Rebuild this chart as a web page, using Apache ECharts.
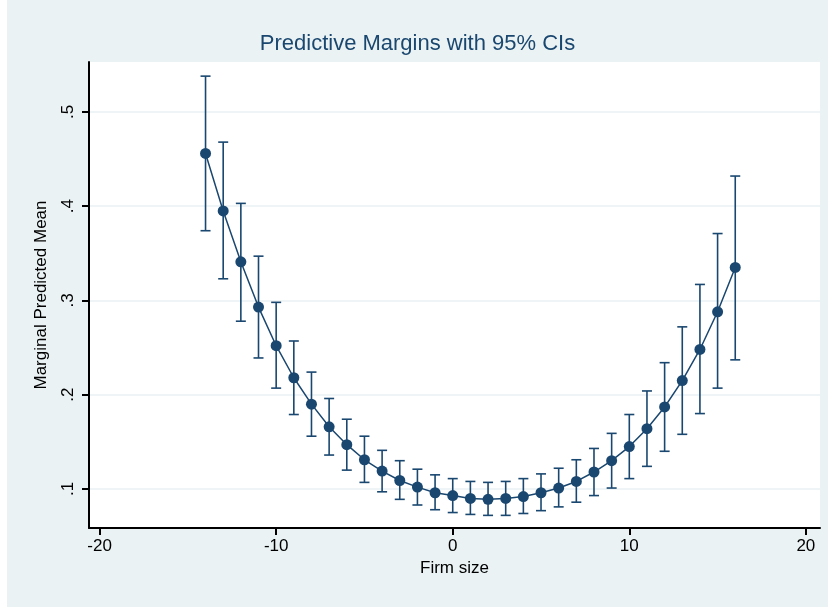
<!DOCTYPE html>
<html>
<head>
<meta charset="utf-8">
<script src="https://cdn.jsdelivr.net/npm/echarts@6/dist/echarts.min.js"></script>
<style>
  html, body { margin: 0; padding: 0; background: #fff; }
  #chart { position: absolute; left: 7px; top: 0; width: 821px; height: 607px; }
</style>
</head>
<body>
<div id="chart"></div>
<script>
  var firmSize = [-14, -13, -12, -11, -10, -9, -8, -7, -6, -5, -4, -3, -2, -1, 0, 1, 2, 3, 4, 5, 6, 7, 8, 9, 10, 11, 12, 13, 14, 15, 16];
  var margin = [0.456, 0.395, 0.341, 0.293, 0.252, 0.218, 0.190, 0.166, 0.147, 0.131, 0.119, 0.109, 0.102, 0.096, 0.093, 0.090, 0.089, 0.090, 0.092, 0.096, 0.101, 0.108, 0.118, 0.130, 0.145, 0.164, 0.187, 0.215, 0.248, 0.288, 0.335];
  var lower = [0.374, 0.323, 0.278, 0.239, 0.207, 0.179, 0.156, 0.136, 0.120, 0.107, 0.097, 0.089, 0.083, 0.078, 0.075, 0.073, 0.072, 0.072, 0.074, 0.077, 0.081, 0.086, 0.093, 0.101, 0.111, 0.124, 0.140, 0.158, 0.180, 0.207, 0.237];
  var upper = [0.538, 0.468, 0.403, 0.347, 0.298, 0.257, 0.224, 0.196, 0.174, 0.156, 0.141, 0.130, 0.121, 0.115, 0.111, 0.108, 0.107, 0.108, 0.111, 0.116, 0.122, 0.131, 0.143, 0.159, 0.179, 0.204, 0.234, 0.272, 0.317, 0.371, 0.432];
  var xTicks = [-20, -10, 0, 10, 20];
  var yTicks = [0.1, 0.2, 0.3, 0.4, 0.5];
  var yTickLabels = ['.1', '.2', '.3', '.4', '.5'];

  var navy = '#1a476f';
  var chart = echarts.init(document.getElementById('chart'));
  var ciData = firmSize.map(function (x, i) { return [x, lower[i], upper[i]]; });

  chart.setOption({
    backgroundColor: '#eaf2f3',
    animation: false,
    title: {
      text: 'Predictive Margins with 95% CIs',
      left: 'center', top: 28,
      textStyle: { fontFamily: 'Liberation Sans', fontSize: 22, fontWeight: 'normal', color: '#1a476f' }
    },
    grid: { left: 82, right: 8, top: 62, bottom: 79, show: true, backgroundColor: '#fff', borderWidth: 0 },
    xAxis: {
      type: 'value', min: -20.6, max: 20.8,
      name: 'Firm size', nameLocation: 'middle', nameGap: 32,
      nameTextStyle: { fontFamily: 'Liberation Sans', fontSize: 17, color: '#000' },
      axisLine: { show: true, onZero: false, lineStyle: { color: '#000', width: 2 } },
      axisTick: { show: true, length: 7, lineStyle: { color: '#000', width: 2 }, customValues: xTicks },
      axisLabel: { fontFamily: 'Liberation Sans', fontSize: 17, color: '#000', margin: 10, customValues: xTicks },
      splitLine: { show: false }
    },
    yAxis: {
      type: 'value', min: 0.0586, max: 0.553,
      name: 'Marginal Predicted Mean', nameLocation: 'middle', nameGap: 39,
      nameTextStyle: { fontFamily: 'Liberation Sans', fontSize: 17, color: '#000' },
      axisLine: { show: true, onZero: false, lineStyle: { color: '#000', width: 2 } },
      axisTick: { show: true, length: 7, lineStyle: { color: '#000', width: 2 }, customValues: yTicks },
      axisLabel: {
        fontFamily: 'Liberation Sans', fontSize: 17, color: '#000', rotate: 90, margin: 12,
        customValues: yTicks,
        formatter: function (v) { return yTickLabels[yTicks.indexOf(Math.round(v * 10) / 10)] || ''; }
      },
      splitLine: { show: true, lineStyle: { color: '#eaf2f3', width: 1.5 } }
    },
    series: [
      {
        type: 'custom',
        data: ciData,
        z: 2,
        renderItem: function (params, api) {
          var lo = api.coord([api.value(0), api.value(1)]);
          var hi = api.coord([api.value(0), api.value(2)]);
          var w = 5;
          var st = { stroke: navy, lineWidth: 1.6 };
          return {
            type: 'group',
            children: [
              { type: 'line', shape: { x1: lo[0], y1: lo[1], x2: hi[0], y2: hi[1] }, style: st },
              { type: 'line', shape: { x1: lo[0] - w, y1: lo[1], x2: lo[0] + w, y2: lo[1] }, style: st },
              { type: 'line', shape: { x1: hi[0] - w, y1: hi[1], x2: hi[0] + w, y2: hi[1] }, style: st }
            ]
          };
        }
      },
      {
        type: 'line',
        data: firmSize.map(function (x, i) { return [x, margin[i]]; }),
        z: 3,
        symbol: 'circle', symbolSize: 11,
        lineStyle: { color: navy, width: 1.5 },
        itemStyle: { color: navy }
      }
    ]
  });
</script>
</body>
</html>
